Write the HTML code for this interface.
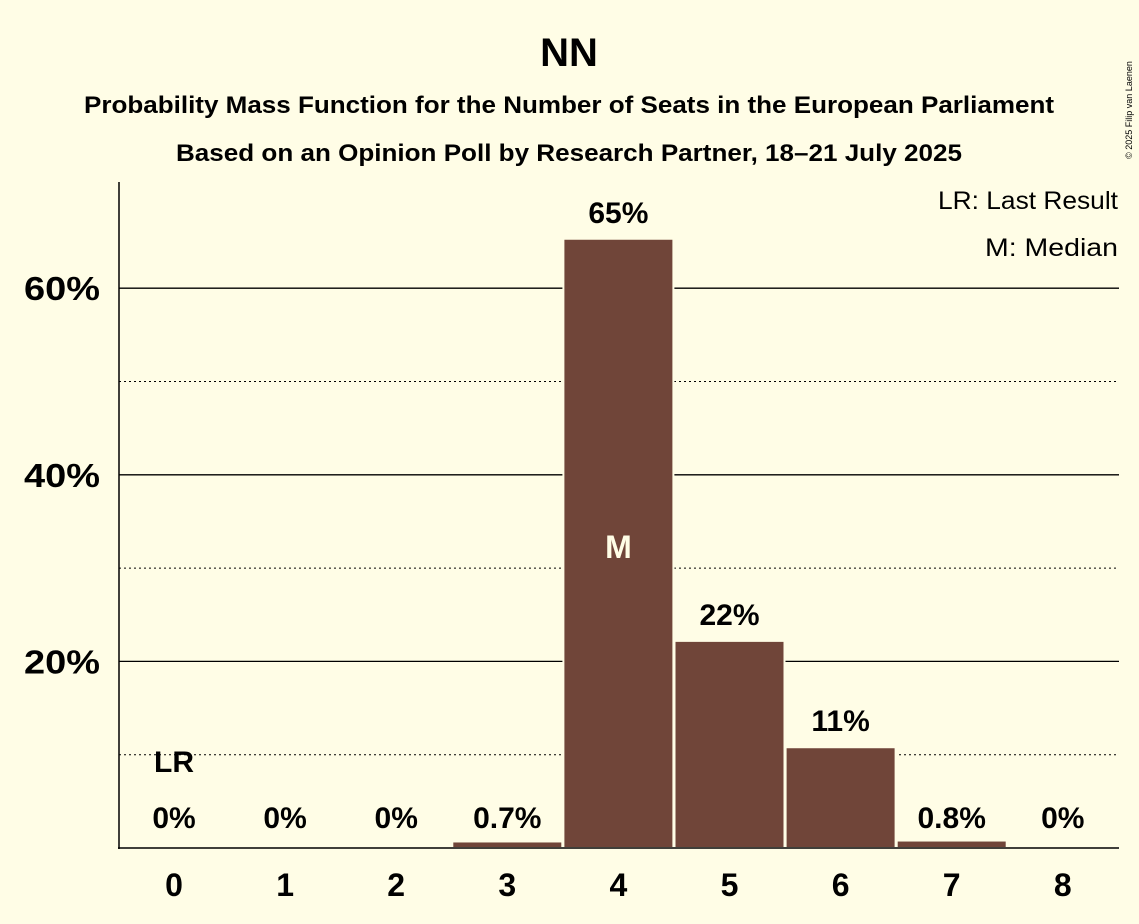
<!DOCTYPE html>
<html><head><meta charset="utf-8"><style>
body{margin:0;background:#FFFDE6;}
svg{display:block;font-family:"Liberation Sans",sans-serif;font-weight:bold;}
</style></head><body>
<svg id="chart" width="1139" height="924">
<rect width="1139" height="924" fill="#FFFDE6"/>
<text x="569" y="66" text-anchor="middle" font-size="40">NN</text>
<text x="569" y="113" text-anchor="middle" font-size="24" textLength="970" lengthAdjust="spacingAndGlyphs">Probability Mass Function for the Number of Seats in the European Parliament</text>
<text x="569" y="161" text-anchor="middle" font-size="24" textLength="786" lengthAdjust="spacingAndGlyphs">Based on an Opinion Poll by Research Partner, 18–21 July 2025</text>
<text x="1132" y="110" font-size="9" font-weight="normal" transform="rotate(-90 1132 110)" text-anchor="middle">© 2025 Filip van Laenen</text>
<text x="1118" y="209" text-anchor="end" font-size="25" font-weight="normal" textLength="180" lengthAdjust="spacingAndGlyphs">LR: Last Result</text>
<text x="1118" y="256" text-anchor="end" font-size="25" font-weight="normal" textLength="133" lengthAdjust="spacingAndGlyphs">M: Median</text>
<g id="grid"></g><g id="bars"></g><g id="labels"></g>
<line x1="119" y1="182" x2="119" y2="849" stroke="#000" stroke-width="1.5"/>
<line x1="118" y1="848" x2="1119" y2="848" stroke="#000" stroke-width="1.5"/>
</svg>
<script>
const seats=[0,1,2,3,4,5,6,7,8];
const probs=[0,0,0,0.7,65.3,22.2,10.8,0.8,0];
const valueLabels=["0%","0%","0%","0.7%","65%","22%","11%","0.8%","0%"];
const yTicks=[20,40,60];
const yMinor=[10,30,50];
const lastResult=0, median=4;
const ns="http://www.w3.org/2000/svg";
const y=v=>848-v*9.33;
const x=s=>174+s*111.1;
function mk(t,a,p){const e=document.createElementNS(ns,t);for(const k in a)e.setAttribute(k,a[k]);p.appendChild(e);return e;}
const g=document.getElementById('grid'),b=document.getElementById('bars'),l=document.getElementById('labels');
yMinor.forEach(v=>{const e=mk('line',{x1:119,x2:1119,y1:y(v),y2:y(v),stroke:'#000','stroke-width':1,'stroke-dasharray':'2,3'},g);

});
yTicks.forEach(v=>{const e=mk('line',{x1:119,x2:1119,y1:y(v),y2:y(v),stroke:'#000','stroke-width':1.3},g);


const t=mk('text',{x:100,y:y(v)+12,'text-anchor':'end','font-size':33,textLength:76,lengthAdjust:'spacingAndGlyphs'},l);t.textContent=v+'%';

});
seats.forEach((s,i)=>{const p=probs[i];
if(p>0){const r=mk('rect',{x:x(s)-55,y:y(p),width:110,height:848-y(p),fill:'#704539',stroke:'#FFFDE6','stroke-width':2},b);

}
const t=mk('text',{x:x(s),y:Math.min(y(p),848)-16,'text-anchor':'middle','font-size':30},l);t.textContent=valueLabels[i];
if(p<3)t.setAttribute('y',828);


const xt=mk('text',{x:x(s),y:896,'text-anchor':'middle','font-size':32},l);xt.textContent=s;


if(s===lastResult){const lr=mk('text',{x:x(s),y:772,'text-anchor':'middle','font-size':30},l);lr.textContent='LR';

}
if(s===median){const m=mk('text',{x:x(s),y:558,'text-anchor':'middle','font-size':32,fill:'#FFFDE6'},l);m.textContent='M';

}
});
</script>
</body></html>
